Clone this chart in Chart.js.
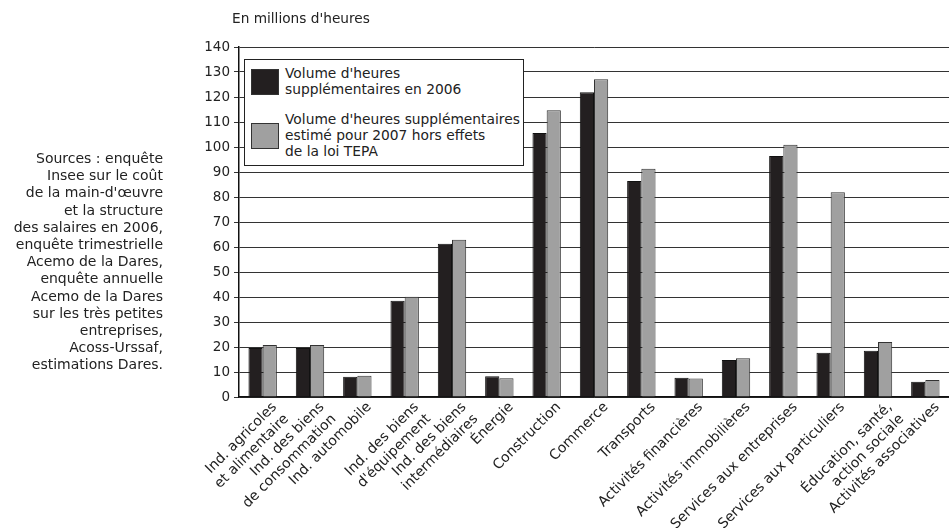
<!DOCTYPE html>
<html>
<head>
<meta charset="utf-8">
<script src="https://cdn.jsdelivr.net/npm/chart.js@4"></script>
<style>
  body { margin: 0; background: #fff; font-family: "DejaVu Sans", sans-serif; color: #222; }
  #wrap { position: relative; width: 949px; height: 528px; }
  #myChart { position: absolute; left: 0; top: 0; }
  #unit { position: absolute; left: 232px; top: 10px; font-size: 13.7px; }
  #sources { position: absolute; right: 786px; top: 150px; text-align: right; font-size: 14px; line-height: 17.2px; white-space: nowrap; }
  #legend { position: absolute; left: 244px; top: 59px; width: 278px; height: 105px; border: 1px solid #222; background: #fff; font-size: 13.8px; line-height: 15.8px; }
  .item { position: absolute; left: 6px; display: flex; align-items: center; white-space: nowrap; }
  .sw { width: 26px; height: 24px; border: 1px solid #333; margin-right: 6px; flex: none; }
</style>
</head>
<body>
<div id="wrap">
  <canvas id="myChart" width="949" height="528"></canvas>
  <div id="unit">En millions d'heures</div>
  <div id="sources"></div>
  <div id="legend"></div>
</div>
<script>
const categories = [
  ['Ind. agricoles', 'et alimentaire'],
  ['Ind. des biens', 'de consommation'],
  'Ind. automobile',
  ['Ind. des biens', "d'équipement"],
  ['Ind. des biens', 'intermédiaires'],
  'Énergie',
  'Construction',
  'Commerce',
  'Transports',
  'Activités financières',
  'Activités immobilières',
  'Services aux entreprises',
  'Services aux particuliers',
  ['Éducation, santé,', 'action sociale'],
  'Activités associatives'
];
const heures2006 = [19.6, 19.6, 8.1, 38.5, 61.3, 8.3, 105.6, 121.9, 86.4, 7.7, 14.8, 96.4, 17.7, 18.5, 6.1];
const heures2007 = [20.8, 20.8, 8.5, 40.1, 62.9, 7.5, 114.7, 127.1, 91.3, 7.4, 15.5, 100.9, 81.9, 22.0, 6.8];
const seriesNames = [
  ["Volume d'heures", 'supplémentaires en 2006'],
  ["Volume d'heures supplémentaires", 'estimé pour 2007 hors effets', 'de la loi TEPA']
];
const seriesColors = ['#231f20', '#a0a0a0'];
const sourceLines = [
  'Sources : enquête', 'Insee sur le coût', "de la main-d'œuvre", 'et la structure',
  'des salaires en 2006,', 'enquête trimestrielle', 'Acemo de la Dares,', 'enquête annuelle',
  'Acemo de la Dares', 'sur les très petites', 'entreprises,', 'Acoss-Urssaf,', 'estimations Dares.'
];

document.getElementById('sources').innerHTML = sourceLines.join('<br>');

const legend = document.getElementById('legend');
const itemTops = [6, 52];
seriesNames.forEach(function (lines, i) {
  const item = document.createElement('div');
  item.className = 'item';
  item.style.top = itemTops[i] + 'px';
  item.innerHTML = '<div class="sw" style="background:' + seriesColors[i] + '"></div><div>' + lines.join('<br>') + '</div>';
  legend.appendChild(item);
});

const ctx = document.getElementById('myChart');
Chart.defaults.font.family = '"DejaVu Sans", sans-serif';
Chart.defaults.font.size = 13.5;
Chart.defaults.color = '#222';

new Chart(ctx, {
  type: 'bar',
  data: {
    labels: categories,
    datasets: [{
      data: heures2006,
      backgroundColor: seriesColors[0],
      borderColor: '#111',
      borderWidth: 1
    }, {
      data: heures2007,
      backgroundColor: seriesColors[1],
      borderColor: '#333',
      borderWidth: 1
    }]
  },
  options: {
    responsive: false,
    animation: false,
    layout: { padding: { left: 189, top: 47, right: 0, bottom: 0 } },
    datasets: { bar: { categoryPercentage: 0.6, barPercentage: 1 } },
    plugins: { legend: { display: false }, tooltip: { enabled: false } },
    scales: {
      x: {
        grid: { display: false },
        border: { color: '#111', width: 1.5 },
        ticks: { minRotation: 45, maxRotation: 45, autoSkip: false, padding: -6, labelOffset: 12, font: { size: 14 } },
        afterFit: function (scale) { scale.height = 131; }
      },
      y: {
        min: 0, max: 140,
        ticks: { stepSize: 10, padding: 4 },
        grid: { color: '#333', lineWidth: 1, tickLength: 5 },
        border: { color: '#111', width: 1.5 },
        afterFit: function (scale) { scale.width = 50; }
      }
    }
  }
});
</script>
</body>
</html>
